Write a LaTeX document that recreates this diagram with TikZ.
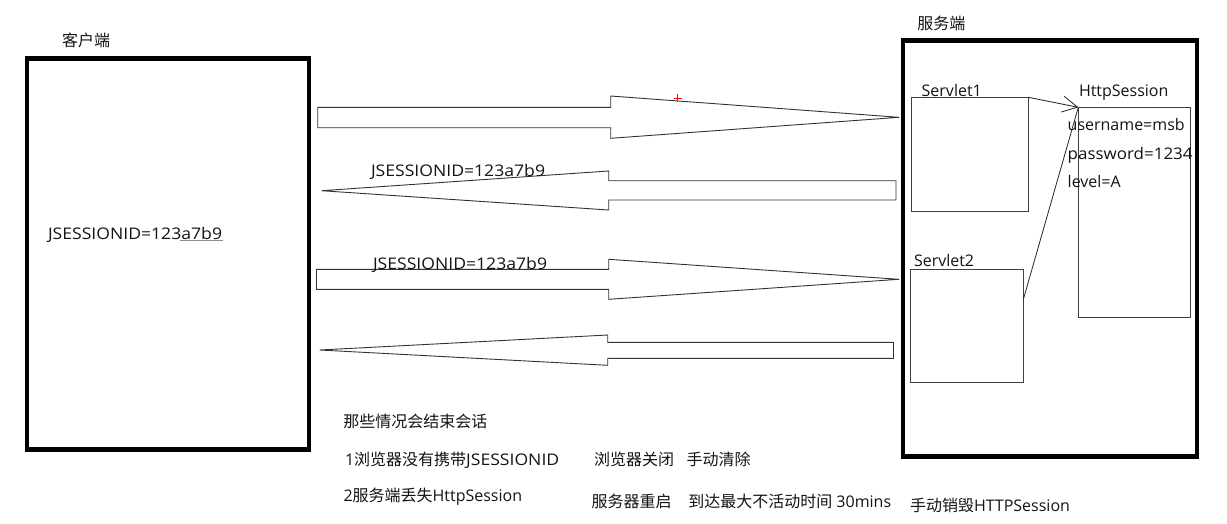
\documentclass[tikz,border=0pt]{standalone}
\usepackage{fontspec}
\setmainfont{Open Sans}
\newfontfamily\cjk{Noto Sans CJK SC}
\newfontfamily\widelatin[FakeStretch=1.1]{Open Sans}
\newfontfamily\semiwide[FakeStretch=1.06]{Open Sans}
\usetikzlibrary{arrows.meta,calc}
\begin{document}
\begin{tikzpicture}[x=1pt,y=-1pt,
  txt/.style={anchor=base west, inner sep=0pt, outer sep=0pt, font=\fontsize{16}{19}\selectfont, text=black!92},
  bigbox/.style={draw=black, line width=4.2pt, inner sep=0pt, outer sep=0pt, anchor=north west},
  smallbox/.style={draw=black!75, line width=1pt, inner sep=0pt, outer sep=0pt, anchor=north west},
  blockarrow/.style={draw=black!80, line width=0.9pt, line join=miter},
  link/.style={draw=black!85, line width=0.8pt}]
\useasboundingbox (0,0) rectangle (1227,523);
\fill[white] (0,0) rectangle (1227,523);

% boxes
\node[bigbox, minimum width=281.7pt, minimum height=391pt] (client) at (27,58.5) {};
\node[bigbox, minimum width=294pt, minimum height=416pt] (server) at (903,40.5) {};
\node[smallbox, minimum width=116.6pt, minimum height=113.7pt] (s1) at (911.7,97.3) {};
\node[smallbox, minimum width=112.6pt, minimum height=113pt] (s2) at (910.7,269) {};
\node[smallbox, minimum width=111.7pt, minimum height=210.4pt] (hs) at (1078.3,107.3) {};

% labels
\node[txt] (clientlabel) at (62,46) {\cjk 客户端};
\node[txt] (serverlabel) at (917.3,29) {\cjk 服务端};
\node[txt] (s1label) at (921.7,96.5) {Servlet1};
\node[txt] (s2label) at (914,266.7) {Servlet2};
\node[txt] (hslabel) at (1079,96.5) {HttpSession};
\node[txt] (uname) at (1067.7,130.5) {username=msb};
\node[txt] (pword) at (1067.7,159) {\semiwide password=1234};
\node[txt] (lvl) at (1067.7,187.5) {level=A};
\node[txt] (cid) at (48,239.3) {\widelatin JSESSIONID=123a7b9};
\draw[black!45, line width=0.8pt] (180,240.8) -- (223,240.8);

% block arrows
\draw[blockarrow] (317.7,107.3) -- (610.7,107.3) -- (610.7,96) -- (899,117.3) -- (610.7,138.3) -- (610.7,127.7) -- (317.7,127.7) -- cycle;
\draw[blockarrow] (896,180.7) -- (608.7,180.7) -- (608.7,171) -- (321.6,190.7) -- (608.7,210) -- (608.7,200) -- (896,200) -- cycle;
\draw[blockarrow] (316.5,269.3) -- (608.7,269.3) -- (608.7,259.3) -- (899,279.3) -- (608.7,299.3) -- (608.7,289.3) -- (316.5,289.3) -- cycle;
\draw[blockarrow] (893.5,342.3) -- (607.7,342.3) -- (607.7,335) -- (319.6,350) -- (607.7,365.3) -- (607.7,358.3) -- (893.5,358.3) -- cycle;

\node[txt] (lab2) at (371,176.5) {\widelatin JSESSIONID=123a7b9};
\node[txt] (lab3) at (373,269) {\widelatin JSESSIONID=123a7b9};

% red cursor mark
\draw[red, line width=1.2pt] (673.7,98.3) -- (681.7,98.3) (677.7,94.3) -- (677.7,102.3);

% links to HttpSession
\draw[link, -{Straight Barb[length=15pt,width=16pt]}] (s1.north east) -- (hs.north west);
\draw[link] ($(s2.north east)!0.27!(s2.south east)$) -- (hs.north west);

% bottom notes
\node[txt] (q) at (343.3,427) {\cjk 那些情况会结束会话};
\node[txt] (r1) at (345,465) {1{\cjk 浏览器没有携带}{\widelatin JSESSIONID}};
\node[txt] (r1b) at (594,465.5) {\cjk 浏览器关闭};
\node[txt] (r1c) at (686.7,465.5) {\cjk 手动清除};
\node[txt] (r2) at (343.5,501) {2{\cjk 服务端丢失}HttpSession};
\node[txt] (r2b) at (591.7,507) {\cjk 服务器重启};
\node[txt] (r2c) at (688.3,507) {{\cjk 到达最大不活动时间} 30mins};
\node[txt] (r2d) at (910,511) {{\cjk 手动销毁}HTTPSession};
\end{tikzpicture}
\end{document}
